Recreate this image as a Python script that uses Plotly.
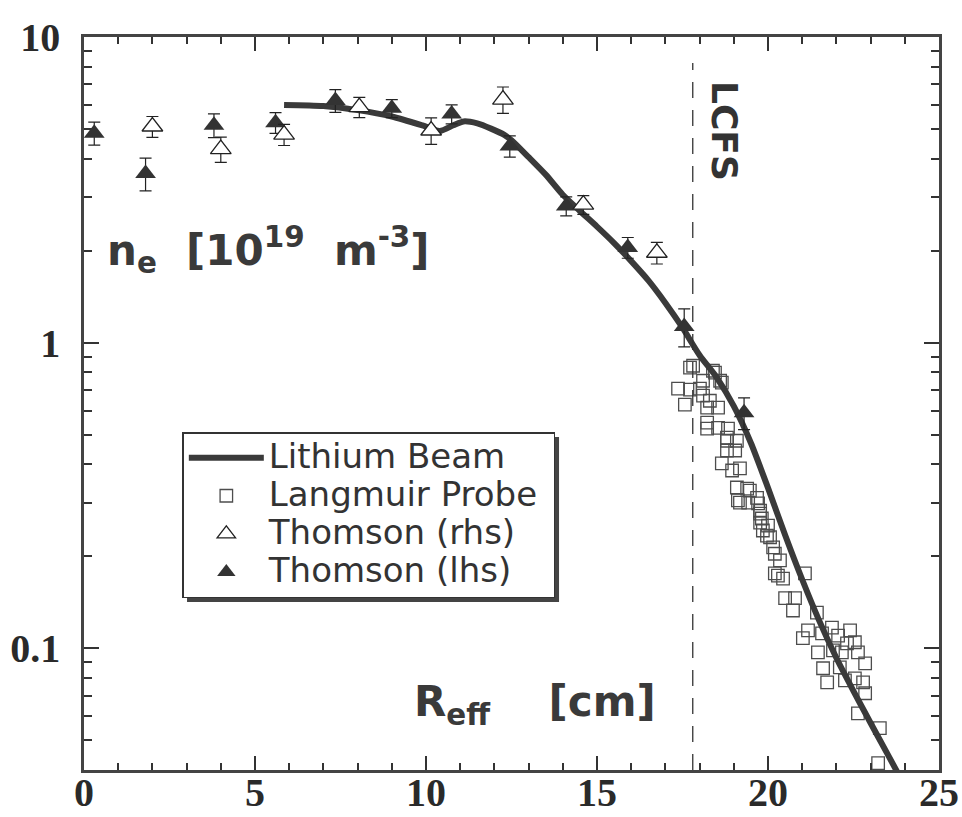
import plotly.graph_objects as go

# ---------------- data ----------------
# Lithium beam profile (solid curve)
lb_x = [5.85, 7.0, 8.0, 9.0, 9.9, 10.4, 10.8, 11.1, 11.5, 11.9, 12.3, 12.5, 13.0, 13.5, 14.0,
        14.5, 15.0, 15.5, 16.0, 16.5, 17.0, 17.5, 18.0, 18.5, 19.0, 19.5, 20.0, 20.5, 21.0,
        21.5, 22.0, 22.5, 23.0, 23.5, 23.8]
lb_y = [6.0, 5.95, 5.77, 5.5, 5.14, 4.93, 5.15, 5.3, 5.22, 5.02, 4.78, 4.6, 4.05, 3.55, 3.05,
        2.7, 2.4, 2.12, 1.85, 1.6, 1.35, 1.12, 0.91, 0.77, 0.62, 0.47, 0.335, 0.235, 0.168,
        0.123, 0.093, 0.0725, 0.057, 0.045, 0.039]

# Langmuir probe (open squares)
lp_x = [17.72, 17.37, 17.72, 17.57, 18.10, 18.45, 18.65, 18.10, 18.30, 18.22, 18.54, 18.22,
        18.22, 18.54, 18.83, 18.80, 19.09, 18.80, 19.04, 18.65, 18.95, 19.18, 19.09, 19.39,
        19.18, 19.42, 19.68, 19.71, 19.77, 19.77, 20.00, 17.81, 18.01, 18.39, 18.60, 18.80,
        19.12, 19.47, 19.82, 19.85, 20.06, 19.97, 20.15, 20.20, 20.35, 20.29, 20.44, 20.20,
        21.08, 20.50, 20.79, 20.73, 21.43, 21.17, 21.02, 21.58, 21.87, 22.05, 22.40, 21.46,
        21.90, 22.16, 22.54, 22.63, 22.84, 21.61, 22.10, 21.73, 22.25, 22.54, 22.78, 22.84,
        22.63, 23.27, 23.22, 19.77, 22.31]
lp_y = [0.829, 0.708, 0.702, 0.627, 0.751, 0.798, 0.740, 0.671, 0.646, 0.613, 0.613, 0.548,
        0.524, 0.527, 0.524, 0.489, 0.478, 0.444, 0.444, 0.403, 0.382, 0.388, 0.336, 0.333,
        0.300, 0.300, 0.311, 0.298, 0.276, 0.258, 0.252, 0.841, 0.708, 0.810, 0.751, 0.478,
        0.305, 0.328, 0.266, 0.243, 0.231, 0.234, 0.214, 0.204, 0.194, 0.173, 0.169, 0.176,
        0.176, 0.146, 0.146, 0.133, 0.131, 0.1145, 0.108, 0.112, 0.117, 0.110, 0.1145, 0.0970,
        0.0985, 0.0970, 0.1047, 0.0970, 0.0893, 0.0861, 0.0867, 0.0774, 0.0786, 0.0798, 0.0774, 0.0713,
        0.0613, 0.0548, 0.0421, 0.282, 0.1038]

# Thomson scattering, right-hand side (open triangles)
th_r_x = [2.0, 4.0, 5.85, 8.05, 10.15, 12.25, 14.6, 16.75]
th_r_y = [5.1, 4.3, 4.8, 5.9, 4.95, 6.25, 2.83, 1.97]
th_r_err = [0.40, 0.41, 0.38, 0.45, 0.49, 0.62, 0.20, 0.16]

# Thomson scattering, left-hand side (filled triangles)
th_l_x = [0.3, 1.8, 3.8, 5.6, 7.35, 9.0, 10.75, 12.45, 14.1, 15.9, 17.55, 19.3]
th_l_y = [4.85, 3.58, 5.15, 5.25, 6.2, 5.85, 5.6, 4.4, 2.8, 2.05, 1.13, 0.59]
th_l_err = [0.42, 0.44, 0.46, 0.41, 0.53, 0.40, 0.40, 0.35, 0.20, 0.16, 0.16, 0.07]

x_ticks = [0, 5, 10, 15, 20, 25]
y_ticks = [0.1, 1, 10]
y_ticktext = ["0.1", "1", "10"]
y_minor = [0.05, 0.06, 0.07, 0.08, 0.09, 0.2, 0.3, 0.4, 0.5, 0.6, 0.7, 0.8, 0.9,
           2, 3, 4, 5, 6, 7, 8, 9]
lcfs_x = 17.8

# ---------------- figure ----------------
LEG = '<span style="font-size:34px">{}</span>'
fig = go.Figure()

fig.add_trace(go.Scatter(
    x=lp_x, y=lp_y, mode="markers", name=LEG.format("Langmuir Probe&nbsp;"), legendrank=2,
    marker=dict(symbol="square-open", size=12.5, color="#4d4d4d", line=dict(width=1.3))))

fig.add_trace(go.Scatter(
    x=lb_x, y=lb_y, mode="lines", name=LEG.format("Lithium Beam"), legendrank=1,
    line=dict(color="#3a3a3a", width=6, shape="spline", smoothing=0.7)))

fig.add_trace(go.Scatter(
    x=th_l_x, y=th_l_y, mode="markers", name=LEG.format("Thomson (lhs)"), legendrank=4,
    marker=dict(symbol="triangle-up", size=18, color="#333333", line=dict(width=0)),
    error_y=dict(type="data", array=th_l_err, color="#222222", thickness=1.2, width=6)))

fig.add_trace(go.Scatter(
    x=th_r_x, y=th_r_y, mode="markers", name=LEG.format("Thomson (rhs)"), legendrank=3,
    marker=dict(symbol="triangle-up", size=18, color="white", line=dict(width=1.3, color="#222222")),
    error_y=dict(type="data", array=th_r_err, color="#222222", thickness=1.2, width=6)))

tickfont = dict(family="Liberation Serif", size=40, color="#2a2a2a", weight="bold")

fig.update_layout(
    width=962, height=817,
    margin=dict(l=84, r=23, t=37, b=47),
    paper_bgcolor="white", plot_bgcolor="white",
    showlegend=True,
    legend=dict(x=0.115, y=0.461, xanchor="left", yanchor="top",
                bgcolor="white", bordercolor="#333333", borderwidth=1.5,
                font=dict(family="DejaVu Sans", size=27, color="#333333"),
                itemwidth=75, tracegroupgap=0),
    xaxis=dict(range=[0, 25], tickmode="array", tickvals=x_ticks, automargin=False,
               ticks="inside", ticklen=14, tickwidth=2, tickcolor="#333333",
               ticklabelstandoff=-15,
               showline=True, linewidth=2.5, linecolor="#444444", mirror="allticks",
               showgrid=False, zeroline=False, tickfont=tickfont,
               minor=dict(dtick=1, tick0=0, ticks="inside", ticklen=7, tickwidth=1.5,
                          tickcolor="#333333", showgrid=False)),
    yaxis=dict(type="log", range=[-1.398, 1.0005], tickmode="array", automargin=False,
               tickvals=y_ticks, ticktext=y_ticktext,
               ticks="inside", ticklen=15, tickwidth=2, tickcolor="#333333",
               ticklabelstandoff=13,
               showline=True, linewidth=2.5, linecolor="#444444", mirror="allticks",
               showgrid=False, zeroline=False, tickfont=tickfont,
               minor=dict(tickmode="array", tickvals=y_minor, ticks="inside", ticklen=8,
                          tickwidth=1.5, tickcolor="#333333", showgrid=False)),
    shapes=[
        dict(type="line", xref="x", yref="paper", x0=lcfs_x, x1=lcfs_x, y0=0, y1=0.9645,
             line=dict(color="#333333", width=1.3, dash="16px,12px")),
        # legend drop shadow
        dict(type="rect", xref="paper", yref="paper", x0=0.1205, x1=0.5556, y0=0.2292, y1=0.4543,
             fillcolor="#444444", line=dict(width=0), layer="above"),
    ],
    annotations=[
        dict(text="n<sub>e</sub>  [10<sup>19</sup>  m<sup>-3</sup>]", xref="paper", yref="paper",
             x=0.0246, y=0.709, xanchor="left", yanchor="middle", showarrow=False,
             font=dict(family="DejaVu Sans", size=42, color="#3a3a3a", weight="bold")),
        dict(text="R<sub>eff</sub>    [cm]", xref="paper", yref="paper",
             x=0.3836, y=0.0887, xanchor="left", yanchor="middle", showarrow=False,
             font=dict(family="DejaVu Sans", size=42, color="#3a3a3a", weight="bold")),
        dict(text="LCFS", xref="x", yref="paper", x=18.71, y=0.872, textangle=90,
             showarrow=False, xanchor="center", yanchor="middle",
             font=dict(family="DejaVu Sans", size=36, color="#333333", weight="bold")),
    ],
)

fig.write_html("out.html")
